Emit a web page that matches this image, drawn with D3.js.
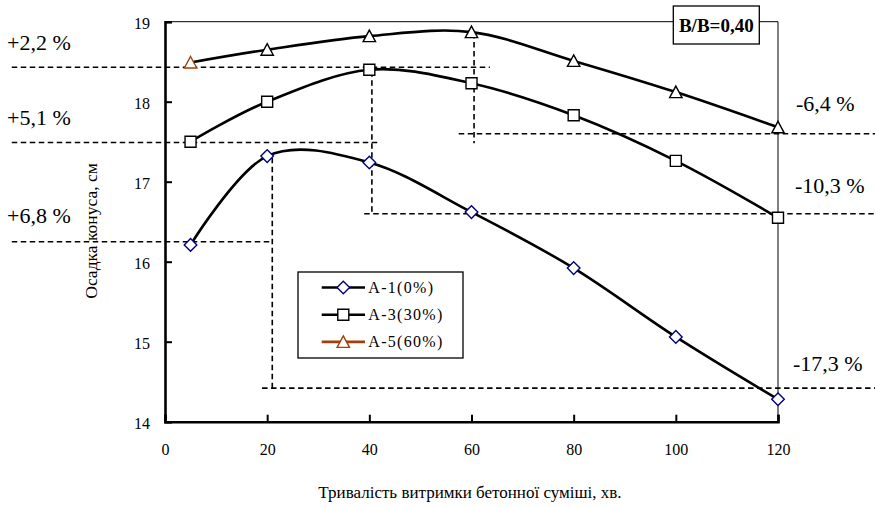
<!DOCTYPE html>
<html>
<head>
<meta charset="utf-8">
<script src="https://cdn.jsdelivr.net/npm/d3@7/dist/d3.min.js"></script>
<style>
  body { margin: 0; background: #fff; }
</style>
</head>
<body>
<div id="chart"></div>
<script>
// data
const times = [5, 20, 40, 60, 80, 100, 120];
const a1Values = [16.21, 17.32, 17.24, 16.62, 15.92, 15.06, 14.28];
const a3Values = [17.50, 18.00, 18.40, 18.23, 17.83, 17.26, 16.55];
const a5Values = [18.49, 18.65, 18.82, 18.87, 18.51, 18.12, 17.68];
const seriesNames = ['A-1(0%)', 'A-3(30%)', 'A-5(60%)'];
const xTicks = [0, 20, 40, 60, 80, 100, 120];
const yTicks = [14, 15, 16, 17, 18, 19];
const pctLabels = ['+2,2 %', '+5,1 %', '+6,8 %', '-6,4 %', '-10,3 %', '-17,3 %'];

// dashed guide lines, in data units (minutes, cm)
const guideSegments = [
  [-30, 18.43, 63.6, 18.43], [60.5, 18.86, 60.5, 17.48], [57.5, 17.6, 139, 17.6],
  [-30, 17.49, 42, 17.49], [40.5, 18.38, 40.5, 16.6], [39, 16.6, 139, 16.6],
  [-30, 16.25, 21, 16.25], [21, 17.3, 21, 14.42], [19, 14.42, 139, 14.42]
];

// chart static params
const W = 876, H = 508;
const FONT = '"Liberation Serif", "Times New Roman", Tinos, serif';
const margin = {top: 21.7, right: 98, bottom: 86.3, left: 165},
    width = W - margin.left - margin.right,
    height = H - margin.top - margin.bottom;
const brown = '#a0400c';
const navy = '#000080';

const x = d3.scaleLinear().domain([0, 120]).range([0, width]);
const y = d3.scaleLinear().domain([14, 19]).range([height, 0]);

const svg = d3.select('#chart').append('svg')
    .attr('width', W).attr('height', H);
const g = svg.append('g')
    .attr('transform', `translate(${margin.left},${margin.top})`);

// frame: thin top and right
g.append('path')
  .attr('d', `M0,0H${width}V${height}`)
  .attr('fill', 'none').attr('stroke', '#000').attr('stroke-width', 1);

// guides
g.selectAll('.guide').data(guideSegments).join('line')
  .attr('x1', d => x(d[0])).attr('y1', d => y(d[1]))
  .attr('x2', d => x(d[2])).attr('y2', d => y(d[3]))
  .attr('stroke', '#000').attr('stroke-width', 1.6)
  .attr('stroke-dasharray', '5.5,3.5');

// axes (ticks inside)
const xAxis = g.append('g').attr('transform', `translate(0,${height})`)
  .call(d3.axisBottom(x).tickValues(xTicks).tickFormat(d3.format('d')).tickSize(-7).tickPadding(22));
const yAxis = g.append('g')
  .call(d3.axisLeft(y).tickValues(yTicks).tickFormat(d3.format('d')).tickSize(-7).tickPadding(15));
[xAxis, yAxis].forEach(a => {
  a.attr('font-family', null);
  a.select('.domain').attr('stroke', '#000').attr('stroke-width', 2.6);
  a.selectAll('.tick line').attr('stroke', '#000').attr('stroke-width', 2);
  a.selectAll('text').style('font-family', FONT).style('font-size', '16px')
    .attr('fill', '#000');
});
yAxis.selectAll('.tick text').attr('dy', '0.42em');

// curves
const line = d3.line()
  .x(d => x(d[0])).y(d => y(d[1]))
  .curve(d3.curveCardinal.tension(0));
const series = [a1Values, a3Values, a5Values].map(v => times.map((t, i) => [t, v[i]]));
g.selectAll('.curve').data(series).join('path')
  .attr('d', line).attr('fill', 'none')
  .attr('stroke', '#000').attr('stroke-width', 2.6);

// markers
const diamond = 'M0,-6.3L6.3,0L0,6.3L-6.3,0Z';
const square = 'M-5.5,-5.5H5.5V5.5H-5.5Z';
const triangle = 'M0,-6L6.2,5.5H-6.2Z';
function markers(data, shape, colorFn) {
  g.append('g').selectAll('path').data(data).join('path')
    .attr('transform', d => `translate(${x(d[0])},${y(d[1])})`)
    .attr('d', shape).attr('fill', '#fff')
    .attr('stroke', (d, i) => colorFn(i)).attr('stroke-width', 1.4);
}
markers(series[0], diamond, () => navy);
markers(series[1], square, () => '#000');
markers(series[2], triangle, i => i === 0 ? brown : '#000');

// percent labels
const pctPos = [[7, 49.5], [7, 124.5], [7, 222.5], [796, 111], [795, 192.5], [793, 370.5]];
svg.selectAll('.pct').data(pctLabels).join('text')
  .attr('x', (d, i) => pctPos[i][0]).attr('y', (d, i) => pctPos[i][1])
  .style('font-family', FONT).style('font-size', '22px').text(d => d);

// B/B box
const boxG = svg.append('g').attr('transform', 'translate(673.3,6)');
boxG.append('rect').attr('width', 86).attr('height', 38)
  .attr('fill', '#fff').attr('stroke', '#000').attr('stroke-width', 1.3);
boxG.append('text').attr('x', 43).attr('y', 25.5).attr('text-anchor', 'middle')
  .style('font-family', FONT).style('font-size', '19px').style('font-weight', 'bold')
  .text('В/В=0,40');

// legend
const leg = svg.append('g').attr('transform', 'translate(298,272)');
leg.append('rect').attr('width', 165).attr('height', 86)
  .attr('fill', '#fff').attr('stroke', '#000').attr('stroke-width', 1.3);
const legShapes = [diamond, square, triangle];
const legMarkColor = [navy, '#000', brown];
const legLineColor = ['#000', '#000', brown];
seriesNames.forEach((name, i) => {
  const ly = 15.5 + i * 27.2;
  leg.append('line').attr('x1', 23.7).attr('x2', 67).attr('y1', ly).attr('y2', ly)
    .attr('stroke', legLineColor[i]).attr('stroke-width', 2.6);
  leg.append('path').attr('d', legShapes[i])
    .attr('transform', `translate(45.3,${ly})`)
    .attr('fill', '#fff').attr('stroke', legMarkColor[i]).attr('stroke-width', 1.4);
  leg.append('text').attr('x', 70.3).attr('y', ly + 5.5)
    .style('font-family', FONT).style('font-size', '16px').style('letter-spacing', '1.3px')
    .text(name);
});

// axis titles
svg.append('text').attr('x', 470).attr('y', 498).attr('text-anchor', 'middle')
  .style('font-family', FONT).style('font-size', '17px')
  .text('Тривалість витримки бетонної суміші, хв.');
svg.append('text').attr('text-anchor', 'middle')
  .attr('transform', 'translate(97,231) rotate(-90)')
  .style('font-family', FONT).style('font-size', '17.5px')
  .text('Осадка конуса, см');
</script>
</body>
</html>
